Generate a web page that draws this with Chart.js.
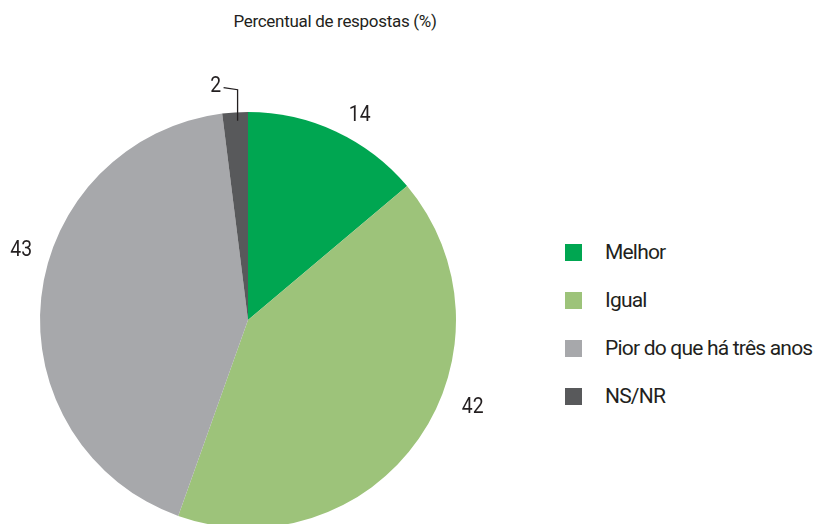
<!DOCTYPE html>
<html>
<head>
<meta charset="utf-8">
<script src="https://cdn.jsdelivr.net/npm/chart.js@4"></script>
<style>
  body { margin: 0; width: 815px; height: 524px; overflow: hidden; background: #fff; position: relative;
         font-family: Roboto, 'Liberation Sans', sans-serif; color: #231f20; }
  #title { position: absolute; left: 0; width: 670px; top: 11px; text-align: center; font-size: 17px;
           letter-spacing: -0.3px; white-space: nowrap; }
  #chartBox { position: absolute; left: 0; top: 0; width: 496px; height: 640px; }
  #legend { position: absolute; left: 565px; top: 228px; }
  .item { display: flex; align-items: center; height: 48px; font-size: 21px; letter-spacing: -0.8px; white-space: nowrap; }
  .swatch { width: 17px; height: 17px; margin-right: 23px; flex: none; }
</style>
</head>
<body>
<div id="title">Percentual de respostas (%)</div>
<div id="chartBox"><canvas id="pie"></canvas></div>
<div id="legend"></div>
<script>
// Data
const categories = ['Melhor', 'Igual', 'Pior do que há três anos', 'NS/NR'];
const values = [14, 42, 43, 2];
const colors = ['#00a651', '#9dc37a', '#a7a8ab', '#58595b'];

// Build legend
const legend = document.getElementById('legend');
categories.forEach((name, i) => {
    const row = document.createElement('div');
    row.className = 'item';
    row.innerHTML = `<span class="swatch" style="background:${colors[i]}"></span><span>${name}</span>`;
    legend.appendChild(row);
});

// draw text squeezed horizontally (condensed look)
function narrowText(ctx, text, x, y) {
    ctx.save();
    ctx.translate(x, y);
    ctx.scale(0.88, 1);
    ctx.fillText(text, 0, 0);
    ctx.restore();
}

// Value labels drawn around the pie
const sliceLabels = {
    id: 'sliceLabels',
    afterDatasetsDraw(chart, args, opts) {
        const ctx = chart.ctx;
        const arcs = chart.getDatasetMeta(0).data;
        ctx.save();
        ctx.fillStyle = '#231f20';
        ctx.strokeStyle = '#231f20';
        ctx.font = opts.font;
        ctx.textAlign = 'center';
        ctx.textBaseline = 'middle';
        arcs.forEach((arc, i) => {
            const p = arc.getProps(['x', 'y', 'startAngle', 'endAngle', 'outerRadius']);
            const mid = (p.startAngle + p.endAngle) / 2;
            if (i === opts.leaderIndex) {
                // small slice: leader line up and to the left
                const lx = p.x + Math.cos(mid) * p.outerRadius * 0.96;
                const ly = p.y + Math.sin(mid) * p.outerRadius * 0.96;
                ctx.lineWidth = 1.3;
                ctx.beginPath();
                ctx.moveTo(lx + 2, ly);
                ctx.lineTo(lx + 2, ly - 31);
                ctx.lineTo(lx - 12, ly - 33);
                ctx.stroke();
                narrowText(ctx, values[i], lx - 20, ly - 34);
                return;
            }
            const a = mid + (opts.angleShift[i] || 0) * Math.PI / 180;
            const r = p.outerRadius * opts.radiusFactor[i];
            narrowText(ctx, values[i], p.x + Math.cos(a) * r, p.y + Math.sin(a) * r);
        });
        ctx.restore();
    }
};

new Chart(document.getElementById('pie'), {
    type: 'pie',
    data: {
        labels: categories,
        datasets: [{
            data: values,
            backgroundColor: colors,
            borderWidth: 0
        }]
    },
    options: {
        responsive: true,
        maintainAspectRatio: false,
        animation: false,
        layout: { padding: { left: 40, right: 40, top: 112, bottom: 112 } },
        plugins: {
            legend: { display: false },
            tooltip: { enabled: false },
            sliceLabels: {
                font: "22px Roboto, 'Liberation Sans', sans-serif",
                leaderIndex: 3,
                angleShift: [3.7, -13.4, 10.7],
                radiusFactor: [1.12, 1.16, 1.14]
            }
        }
    },
    plugins: [sliceLabels]
});
</script>
</body>
</html>
